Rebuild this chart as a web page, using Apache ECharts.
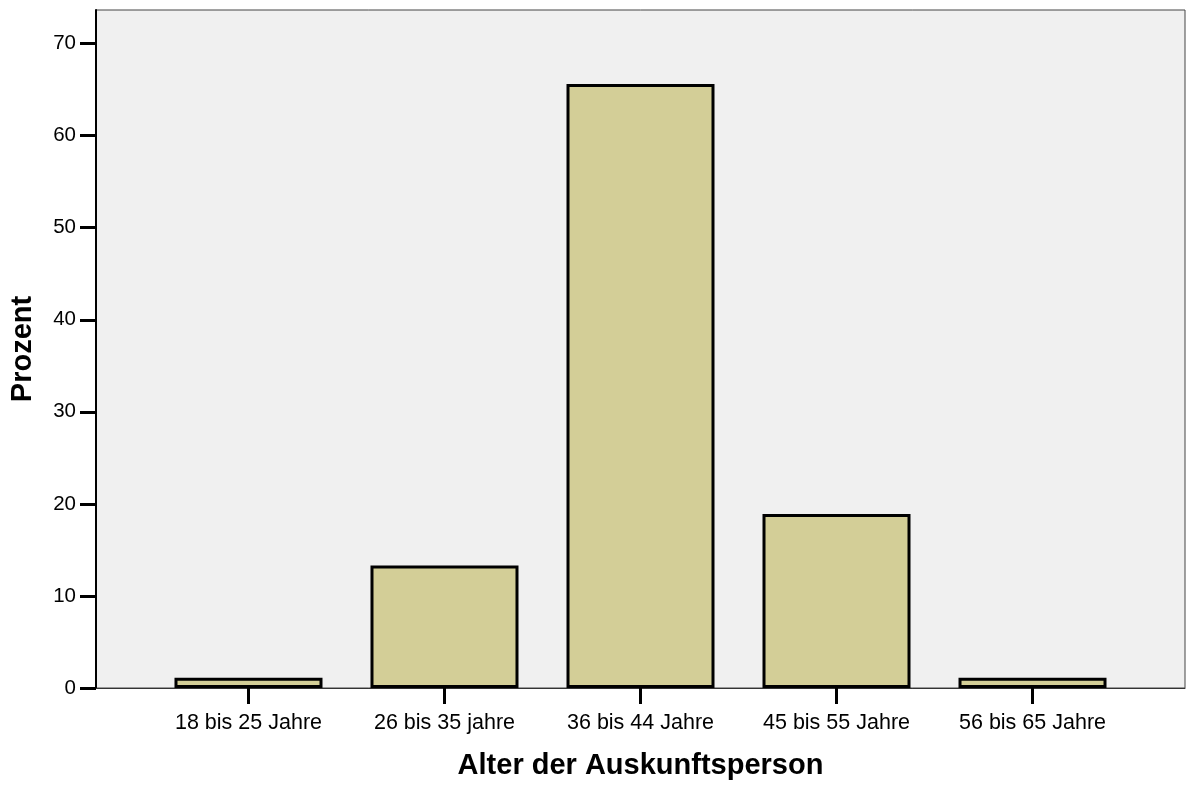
<!DOCTYPE html>
<html>
<head>
<meta charset="utf-8">
<script src="https://cdn.jsdelivr.net/npm/echarts@6/dist/echarts.min.js"></script>
<style>html,body{margin:0;padding:0;background:#fff;}#c{width:1189px;height:785px;}</style>
</head>
<body>
<div id="c"></div>
<script>
const categories = ['18 bis 25 Jahre', '26 bis 35 jahre', '36 bis 44 Jahre', '45 bis 55 Jahre', '56 bis 65 Jahre'];
const percents = [1.1, 13.3, 65.6, 18.9, 1.1];
const yTicks = [0, 10, 20, 30, 40, 50, 60, 70];
const xTitle = 'Alter der Auskunftsperson';
const yTitle = 'Prozent';

const positions = categories.map((c, i) => i);
const chart = echarts.init(document.getElementById('c'), null, {renderer: 'canvas'});
chart.setOption({
  animation: false,
  textStyle: {fontFamily: 'Liberation Sans, Arial, sans-serif'},
  grid: {left: 96, right: 4, top: 10, bottom: 96, show: true, backgroundColor: '#f0f0f0', borderColor: '#444', borderWidth: 1},
  xAxis: {
    type: 'value', min: -0.778, max: 4.778,
    name: xTitle, nameLocation: 'middle', nameGap: 63,
    nameTextStyle: {fontSize: 29, fontWeight: 'bold', color: '#000', fontFamily: 'Liberation Sans, Arial, sans-serif'},
    axisLine: {show: true, onZero: false, lineStyle: {color: '#333', width: 1}},
    axisTick: {show: true, customValues: positions, length: 16, lineStyle: {color: '#000', width: 3}},
    axisLabel: {customValues: positions, margin: 24, fontSize: 21.5, color: '#000', formatter: v => categories[Math.round(v)]},
    splitLine: {show: false}
  },
  yAxis: {
    type: 'value', min: 0, max: 73.65,
    name: yTitle, nameLocation: 'middle', nameGap: 59, nameRotate: 90,
    nameTextStyle: {fontSize: 29, fontWeight: 'bold', color: '#000', fontFamily: 'Liberation Sans, Arial, sans-serif'},
    axisLine: {show: true, onZero: false, lineStyle: {color: '#000', width: 2}},
    axisTick: {show: true, customValues: yTicks, length: 16, lineStyle: {color: '#000', width: 3}},
    axisLabel: {customValues: yTicks, margin: 20, fontSize: 20.5, color: '#000'},
    splitLine: {show: false}
  },
  series: [{
    type: 'bar',
    data: percents.map((v, i) => [positions[i], v]),
    barWidth: 148,
    itemStyle: {color: '#d3ce97', borderColor: '#000', borderWidth: 3}
  }]
});
</script>
</body>
</html>
